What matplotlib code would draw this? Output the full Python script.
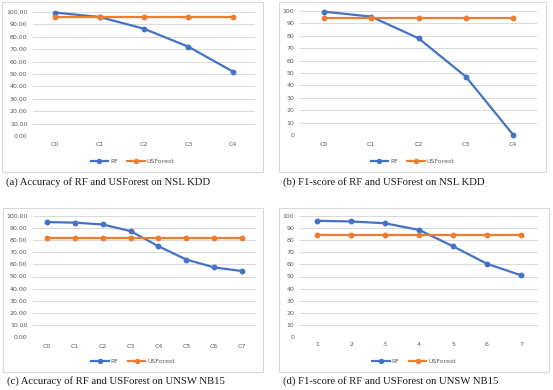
import matplotlib
matplotlib.use("Agg")
import matplotlib.pyplot as plt
from matplotlib.patches import Rectangle

W, H = 553, 390

# (a) accuracy on NSL KDD
nsl_cats = ["C0", "C1", "C2", "C3", "C4"]
nsl_acc_rf = [99.5, 96.0, 86.5, 72.0, 52.0]
nsl_acc_usf = [95.8, 95.8, 95.8, 95.8, 95.8]

# (b) F1 on NSL KDD
nsl_f1_rf = [99.5, 95.5, 78.0, 47.0, 0.0]
nsl_f1_usf = [94.5, 94.5, 94.5, 94.5, 94.5]

# (c) accuracy on UNSW NB15
unsw_cats = ["C0", "C1", "C2", "C3", "C4", "C5", "C6", "C7"]
unsw_acc_rf = [95.0, 94.5, 93.0, 87.5, 75.0, 64.0, 57.5, 54.5]
unsw_acc_usf = [82.0] * 8

# (d) F1 on UNSW NB15
unsw_f1_cats = ["1", "2", "3", "4", "5", "6", "7"]
unsw_f1_rf = [96.0, 95.5, 94.0, 88.5, 75.0, 60.5, 51.0]
unsw_f1_usf = [84.0] * 7

captions = [
    "(a) Accuracy of RF and USForest on NSL KDD",
    "(b) F1-score of RF and USForest on NSL KDD",
    "(c) Accuracy of RF and USForest on UNSW NB15",
    "(d) F1-score of RF and USForest on UNSW NB15",
]

BLUE = "#4472C4"
ORANGE = "#ED7D31"
GRID = "#D9D9D9"
TXT = "#595959"


def fx(x):
    return x / W


def fy(y):
    return 1 - y / H


fig = plt.figure(figsize=(W / 100, H / 100), dpi=100)


def panel(box, plot, cats, rf, usf, fmt, label_y, legend_y, caption, cap_y):
    bx0, by0, bx1, by1 = box
    fig.patches.append(Rectangle((fx(bx0), fy(by1)), fx(bx1 - bx0), (by1 - by0) / H,
                                 transform=fig.transFigure, fill=False,
                                 edgecolor=GRID, linewidth=0.8))
    px0, py0, px1, py1 = plot
    ax = fig.add_axes([fx(px0), fy(py1), fx(px1 - px0), (py1 - py0) / H])
    x = list(range(len(cats)))
    ax.plot(x, rf, color=BLUE, lw=1.6, marker="o", ms=3.2, label="RF", zorder=3)
    ax.plot(x, usf, color=ORANGE, lw=1.6, marker="o", ms=3.2, label="USForest", zorder=3)
    ax.set_xlim(-0.5, len(cats) - 0.5)
    ax.set_ylim(0, 100)
    ax.set_yticks(range(0, 101, 10))
    ax.set_yticklabels([fmt.format(v) for v in range(0, 101, 10)])
    ax.set_xticks(x)
    ax.set_xticklabels([])
    for i, c in enumerate(cats):
        fig.text(fx(px0 + (px1 - px0) * (i + 0.5) / len(cats)), fy(label_y), c,
                 ha="center", va="center", fontsize=4.5, color=TXT)
    ax.grid(axis="y", color=GRID, lw=0.7)
    ax.set_axisbelow(True)
    for s in ax.spines.values():
        s.set_visible(False)
    ax.tick_params(length=0, labelsize=4.5, labelcolor=TXT, pad=4)
    ax.patch.set_alpha(0)
    for ln in ax.lines:
        ln.set_clip_on(False)
    cx = (bx0 + bx1) / 2
    leg = fig.legend(handles=ax.lines, loc="center", bbox_to_anchor=(fx(cx), fy(legend_y)),
                     ncol=2, frameon=False, fontsize=4.5, handlelength=2.8,
                     columnspacing=1.5, handletextpad=0.3, markerscale=0.9)
    for t in leg.get_texts():
        t.set_color(TXT)
    fig.text(fx(bx0 + 4), fy(cap_y), caption, ha="left", va="center",
             fontsize=7.7, family="Liberation Serif", color="#1a1a1a")


panel((2, 2, 263, 172), (33, 12, 255, 136), nsl_cats, nsl_acc_rf, nsl_acc_usf,
      "{:.2f}", 145, 161, captions[0], 182)
panel((279, 2, 546, 172), (300, 11, 537, 135), nsl_cats, nsl_f1_rf, nsl_f1_usf,
      "{:d}", 145, 161, captions[1], 182)
panel((3, 208, 263, 372), (33, 216, 256, 337), unsw_cats, unsw_acc_rf, unsw_acc_usf,
      "{:.2f}", 346, 361, captions[2], 381)
panel((279, 208, 549, 372), (300, 216, 538, 337), unsw_f1_cats, unsw_f1_rf, unsw_f1_usf,
      "{:d}", 345, 361, captions[3], 381)

fig.savefig("out.png", dpi=100)
